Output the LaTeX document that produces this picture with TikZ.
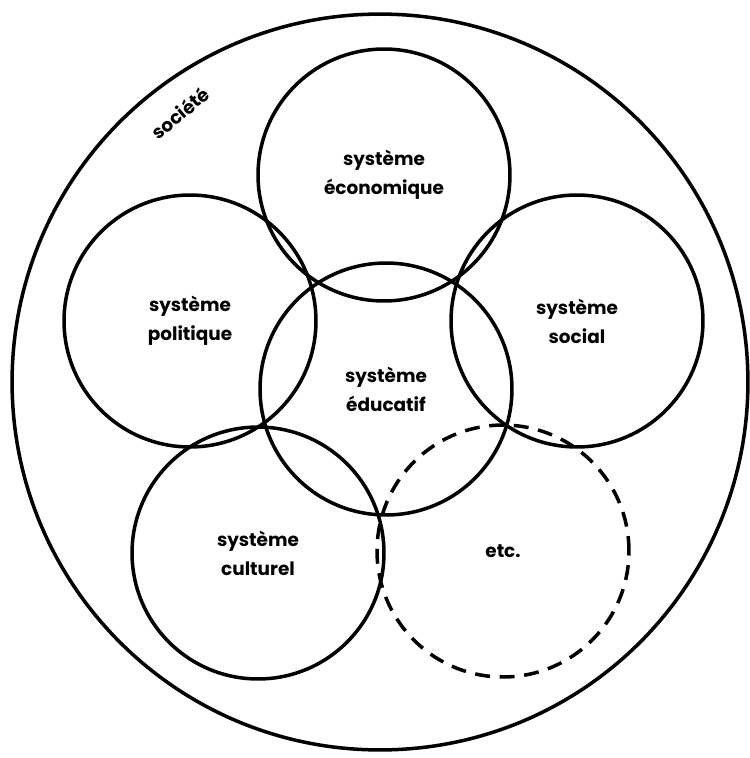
\documentclass[tikz,border=0pt]{standalone}
\usepackage{fontspec}
\setmainfont{Poppins}
\usepackage{tikz}
\usetikzlibrary{positioning}

\tikzset{
  sys/.style={draw, circle, line width=2pt, minimum size=5.04cm, inner sep=0pt,
    align=center, font=\fontsize{10.5}{16.5}\selectfont\bfseries},
  sysdash/.style={sys, dash pattern=on 8.5pt off 5.5pt}
}

\begin{document}
\begin{tikzpicture}[x=0.02cm, y=-0.02cm]
\useasboundingbox (0,0) rectangle (750,758);
\node[draw, circle, line width=2pt, minimum size=14.72cm, inner sep=0pt] (societe) at (380,382) {};%外側の円
\node[rotate=40, font=\fontsize{10.5}{13}\selectfont\bfseries] (soclabel) at (180,113) {société};
\node[sys] (eco) at (384,175) {système\\économique};
\node[sys] (pol) at (190,321) {système\\politique};
\node[sys] (soc) at (577,321) {système\\social};
\node[sys] (edu) at (386,389) {système\\éducatif};
\node[sys] (cul) at (258,553) {système\\culturel};
\node[sysdash] (etc) at (503,551) {etc.};%点線の円
\end{tikzpicture}
\end{document}
